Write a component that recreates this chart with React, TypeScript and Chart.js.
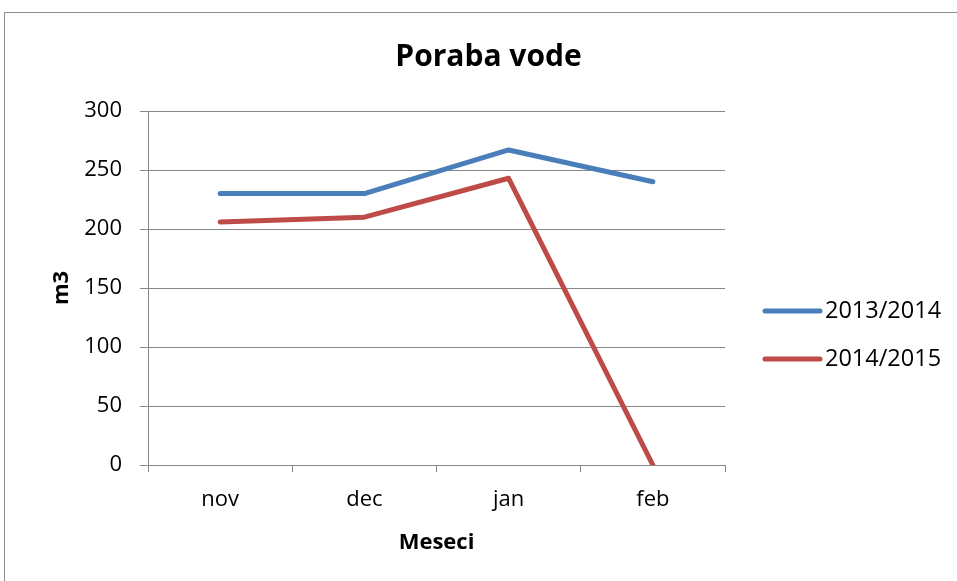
import React, { useEffect, useRef } from "react";
import { Chart, registerables } from "chart.js";

Chart.register(...registerables);

const categories = ["nov", "dec", "jan", "feb"];
const series2013 = [230, 230, 267, 240];
const series2014 = [206, 210, 243, 0];
const seriesLabels = ["2013/2014", "2014/2015"];
const seriesColors = ["#4a7ebb", "#be4b48"];
const yTicks = [0, 50, 100, 150, 200, 250, 300];

const FONT = "'Open Sans', 'Liberation Sans', sans-serif";
const GRID = "#868686";

const legendPlugin = {
  id: "customLegend",
  afterDraw(chart: any) {
    const ctx = chart.ctx;
    const area = chart.chartArea;
    ctx.save();
    const x0 = area.right + 40;
    const rowY = [311, 359];
    chart.data.datasets.forEach((ds: any, i: number) => {
      const y = rowY[i];
      ctx.strokeStyle = ds.borderColor;
      ctx.lineWidth = 5;
      ctx.lineCap = "round";
      ctx.beginPath();
      ctx.moveTo(x0, y);
      ctx.lineTo(x0 + 55, y);
      ctx.stroke();
      ctx.fillStyle = "#000";
      ctx.font = `23.5px ${FONT}`;
      ctx.textAlign = "left";
      ctx.textBaseline = "middle";
      ctx.fillText(ds.label, x0 + 60, y);
    });
    ctx.restore();
  },
};

export default function App() {
  const ref = useRef<HTMLCanvasElement | null>(null);
  useEffect(() => {
    if (!ref.current) return;
    const chart = new Chart(ref.current, {
      type: "line",
      data: {
        labels: categories,
        datasets: [
          {
            label: seriesLabels[0],
            data: series2013,
            borderColor: seriesColors[0],
            backgroundColor: seriesColors[0],
            borderWidth: 5,
            pointRadius: 0,
            tension: 0,
            borderCapStyle: "round",
            borderJoinStyle: "round",
          },
          {
            label: seriesLabels[1],
            data: series2014,
            borderColor: seriesColors[1],
            backgroundColor: seriesColors[1],
            borderWidth: 5,
            pointRadius: 0,
            tension: 0,
            borderCapStyle: "round",
            borderJoinStyle: "round",
          },
        ],
      },
      options: {
        responsive: false,
        animation: false,
        devicePixelRatio: 1,
        layout: { padding: { left: 20, right: 0, top: 0, bottom: 0 } },
        plugins: {
          legend: { display: false },
          tooltip: { enabled: false },
          title: {
            display: true,
            text: "Poraba vode",
            color: "#000",
            font: { family: FONT, size: 30, weight: "bold", lineHeight: 1.2 },
            padding: { top: 39, bottom: 36 },
          },
        },
        scales: {
          x: {
            type: "category",
            offset: true,
            grid: {
              offset: true,
              drawOnChartArea: false,
              drawTicks: true,
              tickLength: 7,
              color: GRID,
            },
            border: { color: GRID, width: 1 },
            ticks: {
              color: "#000",
              font: { family: FONT, size: 22 },
              padding: 15,
              maxRotation: 0,
            },
            title: {
              display: true,
              text: "Meseci",
              color: "#000",
              font: { family: FONT, size: 22, weight: "bold", lineHeight: 1.2 },
              padding: { top: 0, bottom: 25 },
            },
            afterFit(s: any) {
              s.height = 116;
            },
          },
          y: {
            type: "linear",
            min: 0,
            max: 300,
            afterBuildTicks(s: any) {
              s.ticks = yTicks.map((v) => ({ value: v }));
            },
            grid: { color: GRID, tickLength: 8, drawTicks: true },
            border: { color: GRID, width: 1 },
            ticks: {
              color: "#000",
              font: { family: FONT, size: 22 },
              padding: 18,
            },
            title: {
              display: true,
              text: "m3",
              color: "#000",
              font: { family: FONT, size: 22, weight: "bold", lineHeight: 1.2 },
              padding: { top: 29, bottom: 0 },
            },
            afterFit(s: any) {
              s.width = 128;
            },
          },
          spacer: {
            type: "linear",
            position: "right",
            display: true,
            grid: { display: false, drawTicks: false },
            border: { display: false },
            ticks: { display: false },
            afterFit(s: any) {
              s.width = 232;
            },
          },
        },
      } as any,
      plugins: [legendPlugin],
    });
    return () => chart.destroy();
  }, []);

  return (
    <div
      style={{
        position: "fixed",
        left: 0,
        top: 0,
        width: 957,
        height: 581,
        overflow: "hidden",
        background: "#fff",
      }}
    >
      <div
        style={{
          position: "absolute",
          left: 4,
          top: 12,
          width: 1000,
          height: 700,
          border: "1px solid #8e8e8e",
          boxSizing: "border-box",
        }}
      />
      <canvas
        ref={ref}
        width={957}
        height={581}
        style={{ position: "absolute", left: 0, top: 0, width: 957, height: 581 }}
      />
    </div>
  );
}
